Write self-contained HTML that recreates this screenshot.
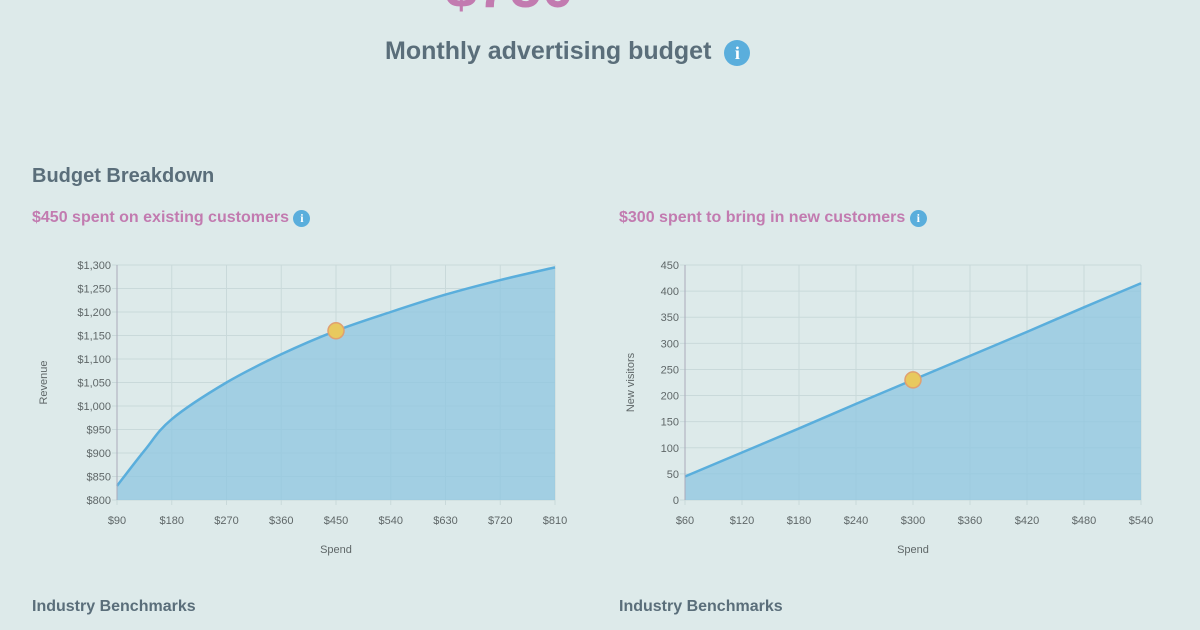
<!DOCTYPE html>
<html><head><meta charset="utf-8">
<style>
body{margin:0;width:1200px;height:630px;overflow:hidden;background:#ddeaea;font-family:"Liberation Sans",sans-serif;position:relative}
.abs{position:absolute;white-space:nowrap}
.big{left:445px;top:-46px;font-size:58px;font-weight:bold;color:#c27bb0}
.title{left:385px;top:37px;font-size:25px;font-weight:bold;color:#5a6e7a}
.info{display:inline-block;border-radius:50%;background:#5aaedc;color:#fff;text-align:center;font-weight:bold;font-family:"Liberation Serif",serif}
.h2{left:32px;top:165px;font-size:20px;font-weight:bold;color:#5a6e7a}
.sub{font-size:16px;font-weight:bold;color:#c27bb0;top:209px}
.bench{font-size:16px;font-weight:bold;color:#5a6e7a;top:598px}
svg text{font-family:"Liberation Sans",sans-serif;fill:#5f6768;font-size:11px}
</style></head><body>
<div class="abs big">$750</div>
<div class="abs title">Monthly advertising budget <span class="info" style="width:26px;height:26px;line-height:26px;font-size:18px;margin-left:6px">i</span></div>
<div class="abs h2">Budget Breakdown</div>
<div class="abs sub" style="left:32px">$450 spent on existing customers <span class="info" style="width:17px;height:17px;line-height:17px;font-size:12px">i</span></div>
<div class="abs sub" style="left:619px">$300 spent to bring in new customers <span class="info" style="width:17px;height:17px;line-height:17px;font-size:12px">i</span></div>
<div class="abs bench" style="left:32px">Industry Benchmarks</div>
<div class="abs bench" style="left:619px">Industry Benchmarks</div>
<svg id="svg" width="1200" height="630" style="position:absolute;left:0;top:0"></svg>
<script>
const leftX=[90,135,180,270,360,450,540,630,720,810];
const leftY=[830,905,972,1050,1110,1160,1200,1237,1268,1295];
const leftTicksX=[90,180,270,360,450,540,630,720,810];
const leftTicksY=[800,850,900,950,1000,1050,1100,1150,1200,1250,1300];
const leftSel=[450,1160];
const rightX=[60,120,180,240,300,360,420,480,540];
const rightY=[45,91,137,184,230,276,322,369,415];
const rightTicksX=[60,120,180,240,300,360,420,480,540];
const rightTicksY=[0,50,100,150,200,250,300,350,400,450];
const rightSel=[300,230];
const NS="http://www.w3.org/2000/svg";
const svg=document.getElementById('svg');
function mk(t,a,p){const e=document.createElementNS(NS,t);for(const k in a)e.setAttribute(k,a[k]);(p||svg).appendChild(e);return e;}
function smooth(P){
 let d='M'+P[0][0]+','+P[0][1];
 for(let i=0;i<P.length-1;i++){
  const p0=P[Math.max(0,i-1)],p1=P[i],p2=P[i+1],p3=P[Math.min(P.length-1,i+2)];
  const c1=[p1[0]+(p2[0]-p0[0])/6,p1[1]+(p2[1]-p0[1])/6];
  const c2=[p2[0]-(p3[0]-p1[0])/6,p2[1]-(p3[1]-p1[1])/6];
  d+='C'+c1[0]+','+c1[1]+' '+c2[0]+','+c2[1]+' '+p2[0]+','+p2[1];
 }
 return d;
}
function chart(o){
 const g=mk('g',{});
 
 
 const xs=v=>o.x0+(v-o.xmin)/(o.xmax-o.xmin)*(o.x1-o.x0);
 const ys=v=>o.y1-(v-o.ymin)/(o.ymax-o.ymin)*(o.y1-o.y0);
 o.tx.forEach(v=>{const l=mk('line',{x1:xs(v),x2:xs(v),y1:o.y0,y2:o.y1+5,stroke:'#c9d9da'},g);
  
  const t=mk('text',{x:xs(v),y:o.y1+24,'text-anchor':'middle'},g);t.textContent=o.fx(v);
  });
 o.ty.forEach(v=>{const l=mk('line',{x1:o.x0-5,x2:o.x1,y1:ys(v),y2:ys(v),stroke:'#c9d9da'},g);
  
  const t=mk('text',{x:o.x0-6,y:ys(v)+4,'text-anchor':'end'},g);t.textContent=o.fy(v);
  });
 const P=o.X.map((x,i)=>[xs(x),ys(o.Y[i])]);
 const d=smooth(P);
 const a=mk('path',{d:d+'L'+xs(o.X[o.X.length-1])+','+o.y1+'L'+xs(o.X[0])+','+o.y1+'Z',fill:'#8ec5e0','fill-opacity':0.75},g);
 
 const ln=mk('path',{d:d,fill:'none',stroke:'#5aaedc','stroke-width':2.5,'stroke-linejoin':'round'},g);
 
 const ax=mk('line',{x1:o.x0,x2:o.x0,y1:o.y0,y2:o.y1,stroke:'#aab'},g);
 
 const c=mk('circle',{cx:xs(o.sel[0]),cy:ys(o.sel[1]),r:8,fill:'#e8c95e',stroke:'#e0a070','stroke-width':1.5},g);
 
 const xt=mk('text',{x:(o.x0+o.x1)/2,y:o.y1+53,'text-anchor':'middle','font-size':'12'},g);xt.textContent='Spend';
 
 const yx=o.yx,yy=(o.y0+o.y1)/2;
 const yt=mk('text',{x:yx,y:yy,'text-anchor':'middle',transform:'rotate(-90 '+yx+' '+yy+')','font-size':'10'},g);yt.textContent=o.ytitle;
 
}
chart({name:'revenue-chart',x0:117,x1:555,y0:265,y1:500,xmin:90,xmax:810,ymin:800,ymax:1300,X:leftX,Y:leftY,tx:leftTicksX,ty:leftTicksY,sel:leftSel,
 fx:v=>'$'+v,fy:v=>'$'+v.toLocaleString('en-US'),yx:47,ytitle:'Revenue'});
chart({name:'visitors-chart',x0:685,x1:1141,y0:265,y1:500,xmin:60,xmax:540,ymin:0,ymax:450,X:rightX,Y:rightY,tx:rightTicksX,ty:rightTicksY,sel:rightSel,
 fx:v=>'$'+v,fy:v=>''+v,yx:634,ytitle:'New visitors'});
</script>
</body></html>
